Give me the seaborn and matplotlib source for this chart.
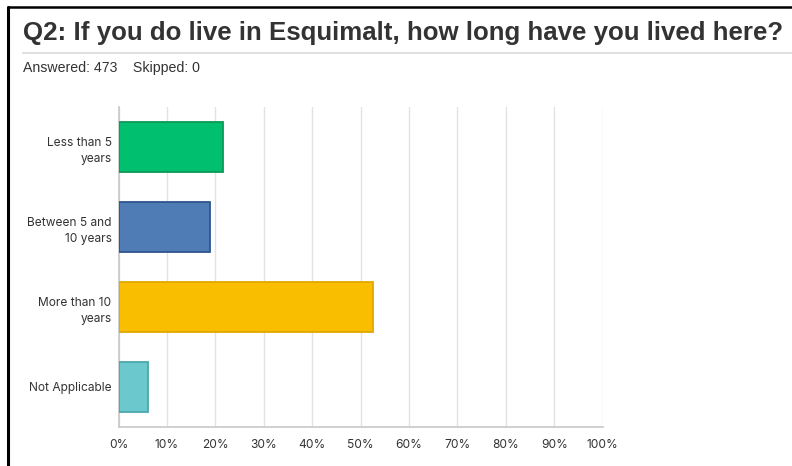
import matplotlib
matplotlib.use("Agg")
import matplotlib.pyplot as plt
from matplotlib.lines import Line2D
from matplotlib.ticker import FuncFormatter
import seaborn as sns
import pandas as pd

categories = ["Less than 5\nyears", "Between 5 and\n10 years", "More than 10\nyears", "Not Applicable"]
percentages = [21.5, 18.8, 52.6, 6.1]
fill_colors = ["#00BF6F", "#507CB6", "#F9BE00", "#6BC8CD"]
edge_colors = ["#0A9A55", "#2E5590", "#E0A800", "#4AA8AD"]
x_ticks = [0, 10, 20, 30, 40, 50, 60, 70, 80, 90, 100]

title = "Q2: If you do live in Esquimalt, how long have you lived here?"
subtitle = "Answered: 473    Skipped: 0"

sns.set_theme(style="white")
plt.rcParams["font.family"] = ["Inter", "DejaVu Sans"]

W, H = 792, 466
fig = plt.figure(figsize=(W / 100, H / 100), dpi=100)
fig.patch.set_facecolor("white")

ax = fig.add_axes([118.5 / W, 1 - 427 / H, 484.2 / W, 320 / H])

df = pd.DataFrame({"category": categories, "pct": percentages})
sns.barplot(data=df, x="pct", y="category", hue="category", palette=fill_colors,
            saturation=1, legend=False, width=0.63, orient="h", ax=ax, zorder=3)
for patch, ec in zip(ax.patches, edge_colors):
    patch.set_edgecolor(ec)
    patch.set_linewidth(1.3)

ax.set_xlim(0, 100)
ax.set_ylim(3.5, -0.5)
ax.set_xticks(x_ticks)
ax.xaxis.set_major_formatter(FuncFormatter(lambda v, p: f"{int(v)}%"))
ax.grid(axis="x", color="#e2e2e2", linewidth=1.0, zorder=0)
ax.set_xlabel("")
ax.set_ylabel("")
for s in ["top", "right"]:
    ax.spines[s].set_visible(False)
for s in ["left", "bottom"]:
    ax.spines[s].set_color("#c8c8c8")
    ax.spines[s].set_linewidth(1.2)
ax.tick_params(axis="x", length=0, pad=9, labelsize=8.6, labelcolor="#333333")
ax.tick_params(axis="y", length=0, pad=5, labelsize=8.6, labelcolor="#333333")
for lbl in ax.get_yticklabels():
    lbl.set_horizontalalignment("right")
    lbl.set_multialignment("right")
    lbl.set_linespacing(1.55)

# Header
fig.text(23 / W, 1 - 33 / H, title, fontsize=18.6, fontweight="bold",
         color="#333333", family="Liberation Sans", va="center", ha="left")
fig.add_artist(Line2D([23 / W, 1.0], [1 - 52.5 / H, 1 - 52.5 / H],
                      color="#e0e0e0", linewidth=1.5, transform=fig.transFigure))
fig.text(23 / W, 1 - 68 / H, subtitle, fontsize=10.2, color="#333333",
         family="Liberation Sans", va="center", ha="left")

# Frame edges
fig.add_artist(Line2D([7.5 / W, 7.5 / W], [0, 1 - 7 / H], color="black",
                      linewidth=2.2, transform=fig.transFigure))
fig.add_artist(Line2D([7.5 / W, 1.0], [1 - 7 / H, 1 - 7 / H], color="black",
                      linewidth=1.8, transform=fig.transFigure))

fig.savefig("out.png", dpi=100, facecolor="white")
